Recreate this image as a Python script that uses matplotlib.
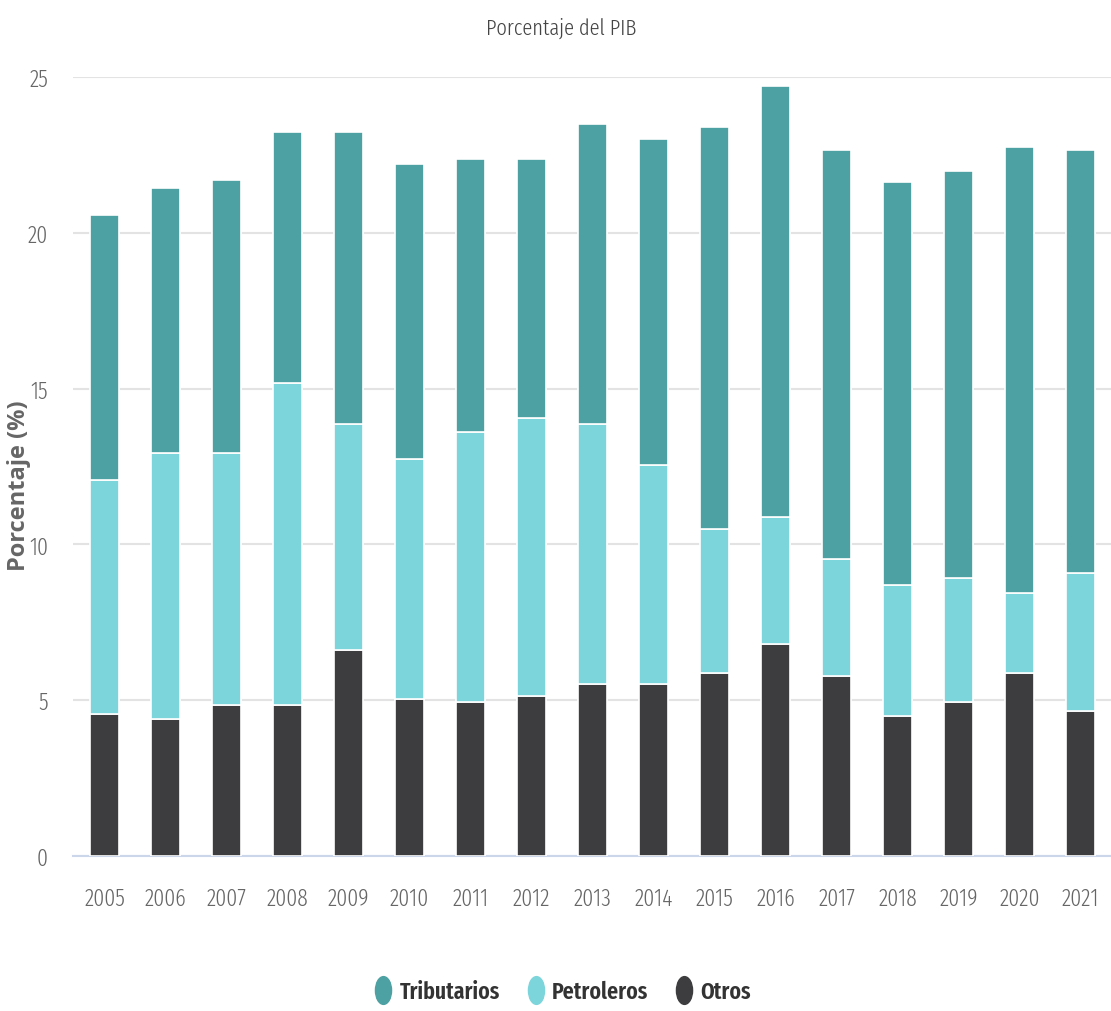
import numpy as np
from matplotlib import pyplot as plt
from matplotlib.lines import Line2D
from matplotlib.path import Path
from matplotlib.transforms import Affine2D

# Ingresos del sector público por componente, % del PIB
years = ['2005', '2006', '2007', '2008', '2009', '2010', '2011', '2012', '2013',
         '2014', '2015', '2016', '2017', '2018', '2019', '2020', '2021']
otros = [4.56, 4.40, 4.85, 4.85, 6.61, 5.04, 4.94, 5.13, 5.52,
         5.52, 5.87, 6.80, 5.78, 4.49, 4.94, 5.87, 4.65]
petroleros = [7.51, 8.53, 8.08, 10.33, 7.25, 7.70, 8.67, 8.93, 8.34,
              7.03, 4.62, 4.08, 3.75, 4.21, 3.98, 2.57, 4.43]
tributarios = [8.50, 8.51, 8.76, 8.05, 9.37, 9.47, 8.76, 8.31, 9.63,
               10.46, 12.91, 13.83, 13.13, 12.93, 13.06, 14.31, 13.58]

c_trib = '#4da1a2'
c_petr = '#7dd5dc'
c_otro = '#3d3d3f'

cond = ['Fira Sans Extra Condensed', 'Archivo Narrow', 'DejaVu Sans']
plt.rcParams['font.family'] = cond

fig = plt.figure(figsize=(11.11, 10.12), dpi=100)
ax = fig.add_axes([0.0657, 0.1532, 0.9343, 0.7698])

x = np.arange(len(years))
w = 0.48
otros = np.array(otros)
petroleros = np.array(petroleros)
tributarios = np.array(tributarios)

ax.bar(x, otros, w, color=c_otro, edgecolor='white', linewidth=1.2, zorder=3)
ax.bar(x, petroleros, w, bottom=otros, color=c_petr, edgecolor='white', linewidth=1.2, zorder=3)
ax.bar(x, tributarios, w, bottom=otros + petroleros, color=c_trib, edgecolor='white',
       linewidth=1.2, zorder=3)

ax.set_xlim(-0.52, 16.5)
ax.set_ylim(0, 25)
ax.set_yticks([0, 5, 10, 15, 20, 25])
ax.yaxis.grid(True, color='#e3e3e3', linewidth=1.5, zorder=0)
ax.set_axisbelow(True)
for s in ['top', 'right', 'left']:
    ax.spines[s].set_visible(False)
ax.spines['bottom'].set_color('#ccd6eb')
ax.spines['bottom'].set_linewidth(1.5)
ax.set_xticks(x)
ax.set_xticklabels(years)
ax.tick_params(axis='both', length=0, labelsize=17, labelcolor='#666666')
ax.tick_params(axis='x', pad=22)
ax.tick_params(axis='y', pad=18)
for lab in ax.get_xticklabels() + ax.get_yticklabels():
    lab.set_fontweight(300)

fig.text(0.505, 0.972, 'Porcentaje del PIB', ha='center', va='center',
         fontsize=16, color='#444444', fontweight=300)
fig.text(0.017, 0.52, 'Porcentaje (%)', rotation=90, ha='center', va='center',
         fontsize=17, fontweight='bold', color='#666666', family=['Open Sans', 'DejaVu Sans'])

# tall ellipse markers for the legend
ellipse = Path.unit_circle().transformed(Affine2D().scale(0.58, 1.0))
handles = [Line2D([], [], marker=ellipse, linestyle='', markersize=20, color=c)
           for c in (c_trib, c_petr, c_otro)]
fig.legend(handles, ['Tributarios', 'Petroleros', 'Otros'], loc='center',
           bbox_to_anchor=(0.504, 0.019), ncol=3, frameon=False,
           prop={'size': 17, 'weight': 600}, labelcolor='#333333',
           handletextpad=0.1, columnspacing=0.9, handlelength=1.2)

fig.savefig('out.png', dpi=100)
